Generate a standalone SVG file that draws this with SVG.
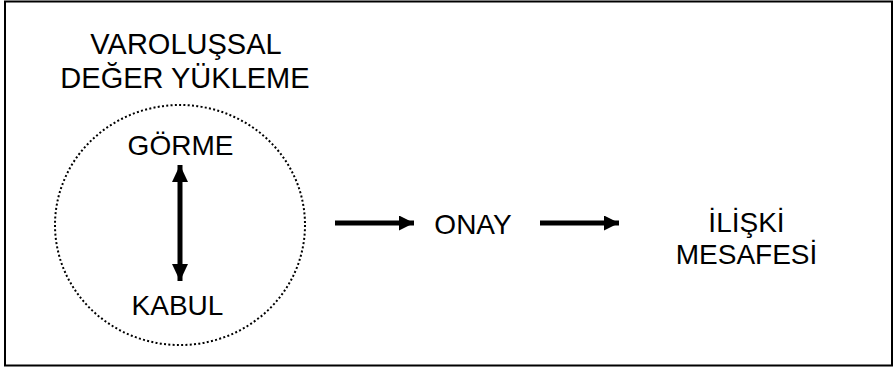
<svg xmlns="http://www.w3.org/2000/svg" width="894" height="368" viewBox="0 0 894 368">
<style>
  text { font-family: "Liberation Sans", Arial, sans-serif; font-size: 28px; fill: #000; text-anchor: middle; }
  .big { font-size: 29px; }
  .conn { stroke: #000; stroke-width: 5; fill: none; }
</style>
<defs>
  <marker id="ah" viewBox="0 0 15 15" refX="15" refY="7.5" markerWidth="15" markerHeight="15" markerUnits="userSpaceOnUse" orient="auto-start-reverse">
    <path d="M0,0 L15,7.5 L0,15 Z" fill="#000"/>
  </marker>
  <marker id="ahv" viewBox="0 0 17 16" refX="17" refY="8" markerWidth="17" markerHeight="16" markerUnits="userSpaceOnUse" orient="auto-start-reverse">
    <path d="M0,0 L17,8 L0,16 Z" fill="#000"/>
  </marker>
</defs>
<rect x="5" y="1.5" width="887" height="364" fill="#fff" stroke="#000" stroke-width="2"/>
<g id="varolussal">
  <text class="big" x="186" y="54">VAROLUŞSAL</text>
  <text class="big" x="185" y="88">DEĞER YÜKLEME</text>
  <ellipse cx="180" cy="225" rx="125" ry="120" fill="none" stroke="#000" stroke-width="2" stroke-dasharray="2 2.3"/>
</g>
<g id="gorme">
  <text x="180.5" y="155">GÖRME</text>
</g>
<g id="kabul">
  <text x="177.5" y="315">KABUL</text>
</g>
<g id="onay">
  <text x="473" y="234">ONAY</text>
</g>
<g id="iliski">
  <text x="746.5" y="232">İLİŞKİ</text>
  <text x="746.5" y="264">MESAFESİ</text>
</g>
<g id="connectors">
  <line class="conn" x1="180" y1="165" x2="180" y2="281" marker-start="url(#ahv)" marker-end="url(#ahv)"/>
  <line class="conn" x1="335" y1="223" x2="414" y2="223" marker-end="url(#ah)"/>
  <line class="conn" x1="540" y1="223" x2="619" y2="223" marker-end="url(#ah)"/>
</g>
</svg>
